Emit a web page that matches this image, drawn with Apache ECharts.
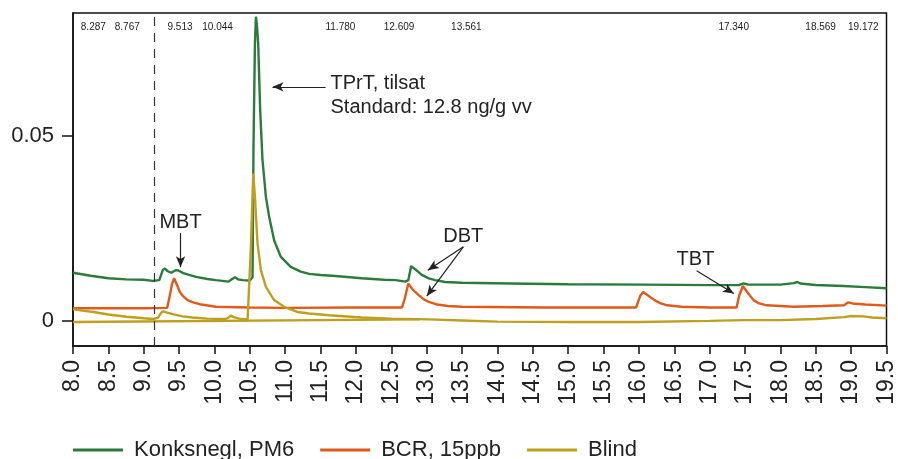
<!DOCTYPE html>
<html><head><meta charset="utf-8">
<script src="https://cdn.jsdelivr.net/npm/echarts@6/dist/echarts.min.js"></script>
<style>html,body{margin:0;padding:0;background:#fff}#c{width:898px;height:459px}</style>
</head><body><div id="c"></div>
<script>
// ---- data ----
const xTicks = [8.0, 8.5, 9.0, 9.5, 10.0, 10.5, 11.0, 11.5, 12.0, 12.5, 13.0, 13.5, 14.0, 14.5, 15.0, 15.5, 16.0, 16.5, 17.0, 17.5, 18.0, 18.5, 19.0, 19.5];
const yTicks = [0, 0.05];
const seriesNames = ['Konksnegl, PM6', 'BCR, 15ppb', 'Blind'];

const konksnegl = [
  [8.0,0.0130],[8.25,0.0122],[8.5,0.0115],[8.75,0.0112],[9.0,0.0111],[9.13,0.0108],[9.22,0.0110],
  [9.27,0.0138],[9.30,0.0141],[9.34,0.0134],[9.39,0.0130],[9.45,0.0137],[9.49,0.0136],[9.56,0.0129],
  [9.64,0.0124],[9.74,0.0119],[9.9,0.0113],[10.02,0.0110],[10.2,0.0106],[10.25,0.0113],[10.29,0.0118],
  [10.33,0.0112],[10.4,0.0110],[10.5,0.0109],[10.52,0.0111],[10.538,0.0118],[10.552,0.0480],
  [10.572,0.0750],[10.586,0.0822],[10.60,0.0800],[10.618,0.0750],[10.646,0.0569],[10.679,0.0434],
  [10.727,0.0335],[10.773,0.0281],[10.843,0.0218],[10.938,0.0173],[11.078,0.0146],[11.219,0.0133],
  [11.34,0.0127],[11.5,0.0124],[11.71,0.0121],[12.08,0.0115],[12.4,0.0111],[12.56,0.0110],[12.70,0.0106],
  [12.74,0.0110],[12.78,0.0148],[12.80,0.0149],[12.86,0.0136],[12.93,0.0124],[13.03,0.0115],[13.12,0.0110],
  [13.26,0.0105],[13.5,0.0103],[14.19,0.0101],[15.0,0.0099],[16.08,0.0098],[17.01,0.00965],[17.42,0.0097],
  [17.48,0.0101],[17.55,0.0098],[18.0,0.0098],[18.19,0.0102],[18.24,0.0105],[18.28,0.0101],[18.5,0.0097],
  [18.89,0.0094],[19.2,0.0091],[19.5,0.0088]
];
const bcr = [
  [8.0,0.0034],[8.5,0.0034],[9.0,0.0034],[9.33,0.0035],[9.36,0.0060],[9.40,0.0100],[9.43,0.0115],
  [9.47,0.0097],[9.51,0.0078],[9.56,0.0066],[9.62,0.0056],[9.70,0.0050],[9.79,0.0045],[10.02,0.0038],
  [10.5,0.0036],[11.0,0.0035],[12.0,0.0036],[12.65,0.0036],[12.69,0.0060],[12.74,0.0101],[12.80,0.0085],
  [12.89,0.0069],[12.96,0.0058],[13.03,0.0051],[13.15,0.0044],[13.3,0.0040],[13.5,0.0038],[14.67,0.0036],
  [15.5,0.0036],[15.96,0.0036],[16.02,0.0068],[16.06,0.0078],[16.12,0.0070],[16.22,0.0056],[16.30,0.0048],
  [16.40,0.0042],[16.6,0.0038],[17.0,0.0036],[17.38,0.0036],[17.42,0.0070],[17.47,0.0094],[17.53,0.0078],
  [17.62,0.0056],[17.70,0.0047],[17.81,0.0042],[18.19,0.0038],[18.6,0.0040],[18.9,0.0042],[18.96,0.0050],
  [18.98,0.0053],[19.02,0.0047],[19.2,0.0044],[19.5,0.0041]
];
const blind = [
  [8.0,0.0031],[8.29,0.0024],[8.5,0.0017],[8.76,0.0011],[9.0,0.0007],[9.13,0.0005],[9.20,0.0008],
  [9.24,0.0020],[9.27,0.0026],[9.32,0.0023],[9.41,0.0018],[9.55,0.0012],[9.69,0.0009],[9.9,0.0006],
  [10.16,0.0005],[10.20,0.0009],[10.23,0.0014],[10.27,0.0010],[10.35,0.0006],[10.468,0.0004],
  [10.513,0.0191],[10.548,0.0398],[10.572,0.0335],[10.608,0.0210],[10.656,0.0137],[10.727,0.0092],
  [10.843,0.0056],[10.984,0.0038],[11.171,0.0024],[11.336,0.0020],[11.62,0.0015],[12.08,0.0009],
  [12.5,0.0006],[13.03,0.0004],[13.5,0.0001],[14.0,-0.0002],[15.0,-0.0003],[16.0,-0.0003],[17.0,0.0000],
  [17.5,0.0002],[18.0,0.0002],[18.5,0.0005],[18.9,0.0010],[19.0,0.0013],[19.17,0.0012],[19.3,0.0009],
  [19.5,0.0007]
];
const blindBaseline = [[8.0,-0.0003],[12.9,0.0004]];

const retentionTimes = [8.287, 8.767, 9.513, 10.044, 11.780, 12.609, 13.561, 17.340, 18.569, 19.172];
const markerTime = 9.15;

// annotations (data coordinates)
const arrows = [
  [[11.571,0.06324],[10.820,0.06324]],
  [[9.520,0.0237],[9.520,0.01451]],
  [[13.518,0.0200],[13.016,0.0137]],
  [[13.518,0.0200],[13.001,0.00668]],
  [[16.816,0.01351],[17.342,0.0074]]
];
const notes = [
  {text:'TPrT, tilsat\nStandard: 12.8 ng/g vv', at:[11.64,0.0675], align:'left', va:'top'},
  {text:'MBT', at:[9.52,0.0267], align:'center', va:'middle'},
  {text:'DBT', at:[13.518,0.0229], align:'center', va:'middle'},
  {text:'TBT', at:[16.80,0.0167], align:'center', va:'middle'}
];

// ---- chart ----
const FONT = '"Liberation Sans", Arial, Helvetica, sans-serif';
const colors = ['#2b7b3b', '#e05a1c', '#bea01e'];
const chart = echarts.init(document.getElementById('c'), null, {renderer:'canvas'});

const lineSeries = (name, data, color, extra) => Object.assign({
  name, type:'line', data, showSymbol:false, symbol:'none', silent:true,
  lineStyle:{color, width:2.4}, itemStyle:{color}, animation:false, z:2
}, extra || {});

chart.setOption({
  animation:false,
  textStyle:{fontFamily:FONT},
  grid:{left:73, right:8, top:13, bottom:113, show:true, borderColor:'#111', borderWidth:1.5, backgroundColor:'transparent'},
  legend:{
    data:seriesNames, left:73, top:439, padding:0, itemWidth:50, itemHeight:3, itemGap:26, icon:'rect',
    textStyle:{fontSize:22, color:'#222', fontFamily:FONT, padding:[0,0,0,6]}, selectedMode:false
  },
  xAxis:{
    type:'value', min:8, max:19.5,
    axisLine:{show:true, onZero:false, lineStyle:{color:'#111', width:1.5}},
    axisTick:{show:true, length:8, lineStyle:{color:'#111', width:1.5}, customValues:xTicks},
    axisLabel:{rotate:90, margin:14, fontSize:23, color:'#222', fontFamily:FONT, customValues:xTicks,
      formatter:v => v.toFixed(1)},
    splitLine:{show:false}
  },
  yAxis:{
    type:'value', min:-0.0068, max:0.0832,
    axisLine:{show:true, onZero:false, lineStyle:{color:'#111', width:1.5}},
    axisTick:{show:true, length:11, lineStyle:{color:'#111', width:1.5}, customValues:yTicks},
    axisLabel:{margin:19, fontSize:22, color:'#222', fontFamily:FONT, customValues:yTicks,
      formatter:v => (v === 0 ? '0' : v.toFixed(2))},
    splitLine:{show:false}
  },
  series:[
    lineSeries(seriesNames[0], konksnegl, colors[0], {
      markLine:{
        silent:true, animation:false, symbol:['none','none'], label:{show:false},
        lineStyle:{color:'#333', width:1.2, type:[9,7]},
        data:[{xAxis:markerTime}]
      }
    }),
    lineSeries(seriesNames[1], bcr, colors[1]),
    lineSeries(seriesNames[2], blindBaseline, colors[2]),
    lineSeries(seriesNames[2], blind, colors[2]),
    {
      name:'annotations', type:'line', data:[], silent:true, animation:false,
      markLine:{
        silent:true, animation:false, symbol:['none','arrow'], symbolSize:[7,11], label:{show:false},
        lineStyle:{color:'#222', width:1.2, type:'solid'},
        data:arrows.map(a => [{coord:a[0]},{coord:a[1]}])
      }
    }
  ]
});

function placeTexts(){
  const top = chart.convertToPixel({gridIndex:0}, [8, 0.0832])[1];
  const els = [];
  retentionTimes.forEach(rt => {
    const p = chart.convertToPixel({gridIndex:0}, [rt, 0]);
    els.push({type:'text', x:p[0], y:top+14, silent:true,
      style:{text:rt.toFixed(3), fill:'#222', font:'10px ' + FONT, align:'center', verticalAlign:'middle'}});
  });
  notes.forEach(n => {
    const p = chart.convertToPixel({gridIndex:0}, n.at);
    els.push({type:'text', x:p[0], y:p[1], silent:true,
      style:{text:n.text, fill:'#222', font:'20px ' + FONT, lineHeight:24, align:n.align, verticalAlign:n.va}});
  });
  chart.setOption({graphic:{elements:els}});
}
placeTexts();
</script>
</body></html>
